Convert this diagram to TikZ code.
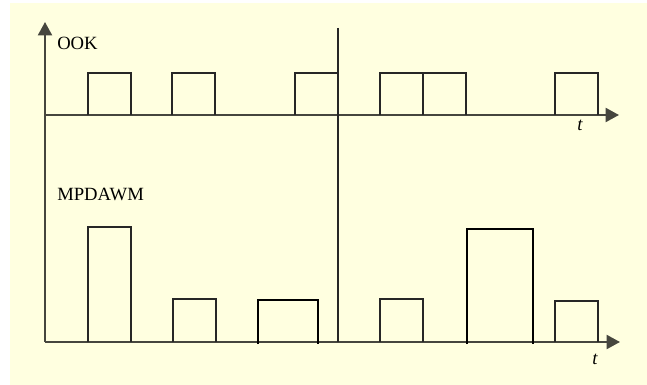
\documentclass[tikz,border=0pt]{standalone}
\usepackage{fontspec}
\setmainfont{Liberation Serif}
\usetikzlibrary{arrows.meta}
\definecolor{paper}{RGB}{255,255,224}
\definecolor{axisgray}{RGB}{70,70,62}
\begin{document}
\begin{tikzpicture}[
  x=0.75pt, y=-0.75pt,
  font=\fontsize{14}{16}\selectfont,
  axis/.style={draw=axisgray, line width=1.4pt},
  axisarrow/.style={axis, -{Triangle[length=10pt, width=10.5pt]}},
  pulse/.style={draw=black!85, line width=0.9pt},
  strongpulse/.style={draw=black, line width=1.9pt},
  label/.style={inner sep=0pt},
]
% page and yellow background
\useasboundingbox (0,0) rectangle (647,385);
\fill[paper] (10,3) rectangle (647,385);

% axes
\coordinate (o) at (45,342);
\coordinate (ytip) at (45,22);
\coordinate (ook0) at (45,115);
\coordinate (ooktip) at (619,115);
\coordinate (mptip) at (620,342);
\coordinate (midtop) at (338,28);
\coordinate (midbot) at (338,342);

\draw[axisarrow] (o) -- (ytip);
\draw[axisarrow] (ook0) -- (ooktip);
\draw[axisarrow] (o) -- (mptip);
\draw[draw=black!85, line width=1.1pt] (midtop) -- (midbot);

% labels
\node[label, anchor=base west] (ook) at (57,50) {OOK};
\node[label, anchor=base west] (mpdawm) at (57,200) {MPDAWM};
\node[label, anchor=north] (t1) at (580,120) {\itshape t};
\node[label, anchor=north] (t2) at (595,354) {\itshape t};

% OOK pulses (left, right, top)
\foreach \a/\b in {88/131, 172/215, 295/338, 380/423, 423/466, 555/598} {
  \draw[pulse] (\a,115) -- (\a,73) -- (\b,73) -- (\b,115);
}

% MPDAWM pulses, thin ones
\foreach \a/\b/\h in {88/131/227, 173/216/299, 380/423/299, 555/598/301} {
  \draw[pulse] (\a,342) -- (\a,\h) -- (\b,\h) -- (\b,342);
}
% MPDAWM pulses, bold ones
\foreach \a/\b/\h in {258/318/300, 467/533/229} {
  \draw[strongpulse] (\a,344) -- (\a,\h) -- (\b,\h) -- (\b,344);
}

\end{tikzpicture}
\end{document}
